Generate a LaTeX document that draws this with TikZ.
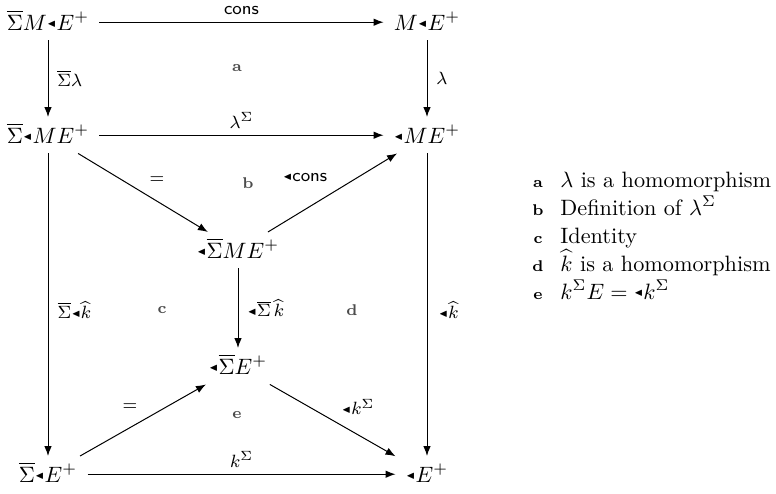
\documentclass[tikz,border=0pt]{standalone}
\usepackage{amssymb}
\usepackage{graphicx}
\usetikzlibrary{arrows.meta}
\newcommand{\tl}{\mathord{\raisebox{0.35ex}{\scalebox{0.8}{$\scriptscriptstyle\blacktriangleleft$}}}}
\newcommand{\Sb}{\overline{\Sigma}}
\begin{document}
\begin{tikzpicture}[x=0.45pt,y=-0.45pt,
  obj/.style={anchor=base, inner xsep=4.5pt, inner ysep=2.5pt, text height=9pt, text depth=2pt},
  lab/.style={font=\footnotesize, inner sep=1pt},
  cell/.style={font=\scriptsize\bfseries, text=black!70, inner sep=1pt},
  arr/.style={-{Latex[length=4.5pt,width=3.4pt]}, line width=0.45pt},
  legl/.style={font=\scriptsize\bfseries, anchor=base, inner sep=0pt},
  legt/.style={anchor=base west, inner sep=0pt}]
\useasboundingbox (0,0) rectangle (776,493);
% objects
\node[obj] (A) at (48,30) {$\Sb M\tl E^+$};
\node[obj] (B) at (427,30) {$M\tl E^+$};
\node[obj] (C) at (48,143) {$\Sb\tl ME^+$};
\node[obj] (D) at (427,143) {$\tl ME^+$};
\node[obj] (F) at (238,258) {$\tl\Sb ME^+$};
\node[obj] (G) at (238,374) {$\tl\Sb E^+$};
\node[obj] (H) at (48,482) {$\Sb\tl E^+$};
\node[obj] (I) at (427,482) {$\tl E^+$};
% arrows
\draw[arr] (A) -- (B) node[lab, midway, above=2pt] (l1) {\textsf{cons}};
\draw[arr] (A) -- (C) node[lab, midway, right=3pt] (l2) {$\Sb\lambda$};
\draw[arr] (B) -- (D) node[lab, midway, right=3pt] (l3) {$\lambda$};
\draw[arr] (C) -- (D) node[lab, midway, above=2pt] (l4) {$\lambda^{\Sigma}$};
\draw[arr] (C) -- (F);
\draw[arr] (F) -- (D);
\draw[arr] (C) -- (H);
\draw[arr] (D) -- (I);
\draw[arr] (F) -- (G) node[lab, midway, right=3pt] (l7) {$\tl\Sb\,\widehat{k}$};
\draw[arr] (H) -- (G);
\draw[arr] (G) -- (I);
\draw[arr] (H) -- (I) node[lab, midway, above=2pt] (l8) {$k^{\Sigma}$};
% free labels
\node[lab] (e1) at (157,180) {$=$};
\node[lab] (e2) at (305,178) {$\tl$\textsf{cons}};
\node[lab, anchor=west] (e3) at (55,310) {$\Sb\tl\widehat{k}$};
\node[lab, anchor=west] (e4) at (436,310) {$\tl\widehat{k}$};
\node[lab] (e5) at (130,407) {$=$};
\node[lab] (e6) at (358,407) {$\tl k^{\Sigma}$};
% cell letters
\node[cell] (ca) at (237,68) {a};
\node[cell] (cb) at (248,183) {b};
\node[cell] (cc) at (162,310) {c};
\node[cell] (cd) at (352,310) {d};
\node[cell] (ce) at (237,415) {e};
% legend
\node[legl] (La) at (538,187) {a};
\node[legt] (Ta) at (560,187) {$\lambda$ is a homomorphism};
\node[legl] (Lb) at (538,215) {b};
\node[legt] (Tb) at (560,215) {Definition of $\lambda^{\Sigma}$};
\node[legl] (Lc) at (538,243) {c};
\node[legt] (Tc) at (560,243) {Identity};
\node[legl] (Ld) at (538,271) {d};
\node[legt] (Td) at (560,271) {$\widehat{k}$ is a homomorphism};
\node[legl] (Le) at (538,299) {e};
\node[legt] (Te) at (560,299) {$k^{\Sigma}E = \tl k^{\Sigma}$};
\end{tikzpicture}
\end{document}
